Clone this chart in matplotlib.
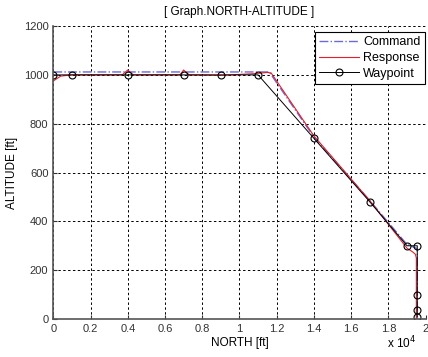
import numpy as np
import matplotlib.pyplot as plt

plt.rcParams['font.family'] = ['Liberation Sans', 'DejaVu Sans']

# ---------------- Data ----------------

wp_north = [0, 1000, 4000, 7000, 9000, 11000, 14000, 17000, 19000, 19550, 19550, 19550, 19550]
wp_alt = [1000, 1000, 1000, 1000, 1000, 1000, 740, 480, 300, 300, 100, 35, 10]

cmd_north = [0, 11600, 14000, 17000, 19000, 19500, 19550, 19550]
cmd_alt = [1012, 1012, 745, 485, 305, 290, 280, 0]

resp_north = [0, 400, 1000, 3700, 4000, 4300, 6800, 7000, 7300, 9000, 10800, 11500, 11700,
              14000, 17000, 19000, 19300, 19450, 19500, 19500]
resp_alt = [975, 995, 1000, 1000, 1020, 1000, 1000, 1020, 1000, 998, 1005, 1010, 1008,
            750, 485, 290, 275, 265, 250, 0]

xticks = [0, 2000, 4000, 6000, 8000, 10000, 12000, 14000, 16000, 18000, 20000]
xtick_labels = ['0', '0.2', '0.4', '0.6', '0.8', '1', '1.2', '1.4', '1.6', '1.8', '2']
yticks = [0, 200, 400, 600, 800, 1000, 1200]

# ---------------- Plot ----------------

fig = plt.figure(figsize=(4.28, 3.57), dpi=100)
ax = fig.add_axes([0.1245, 0.1064, 0.870, 0.8206])

ax.plot(cmd_north, cmd_alt, color='#6a6ad8', linestyle='-.', linewidth=1.0, label='Command')
ax.plot(resp_north, resp_alt, color='#e0202a', linestyle='-', linewidth=0.8, label='Response')
ax.plot(wp_north, wp_alt, color='black', linestyle='-', linewidth=0.7, marker='o',
        markersize=5, markerfacecolor='none', markeredgewidth=0.8, label='Waypoint')

ax.set_xlim(0, 20000)
ax.set_ylim(0, 1200)
ax.set_xticks(xticks)
ax.set_xticklabels(xtick_labels)
ax.set_yticks(yticks)
ax.tick_params(labelsize=8, length=3, direction='in', colors='#333333')

ax.grid(True, color='black', linestyle=(0, (2.5, 2.5)), linewidth=0.7)
for side in ['top', 'right']:
    ax.spines[side].set_visible(False)
for side in ['left', 'bottom']:
    ax.spines[side].set_color('#555555')
    ax.spines[side].set_linewidth(1.2)

ax.set_title('[ Graph.NORTH-ALTITUDE ]', fontsize=8.5, pad=8)
ax.set_xlabel('NORTH [ft]', fontsize=8.5, labelpad=2)
ax.set_ylabel('ALTITUDE [ft]', fontsize=8.5, labelpad=4)

fig.text(0.905, 0.025, r'x 10$^4$', fontsize=8.5)

leg = ax.legend(loc='upper right', fontsize=9, frameon=True, fancybox=False,
                edgecolor='black', framealpha=1.0, borderpad=0.35, handlelength=3.2,
                labelspacing=0.3, handletextpad=0.3, borderaxespad=0.0,
                bbox_to_anchor=(0.998, 0.98))
leg.get_frame().set_linewidth(0.8)

fig.savefig('out.png', dpi=100)
